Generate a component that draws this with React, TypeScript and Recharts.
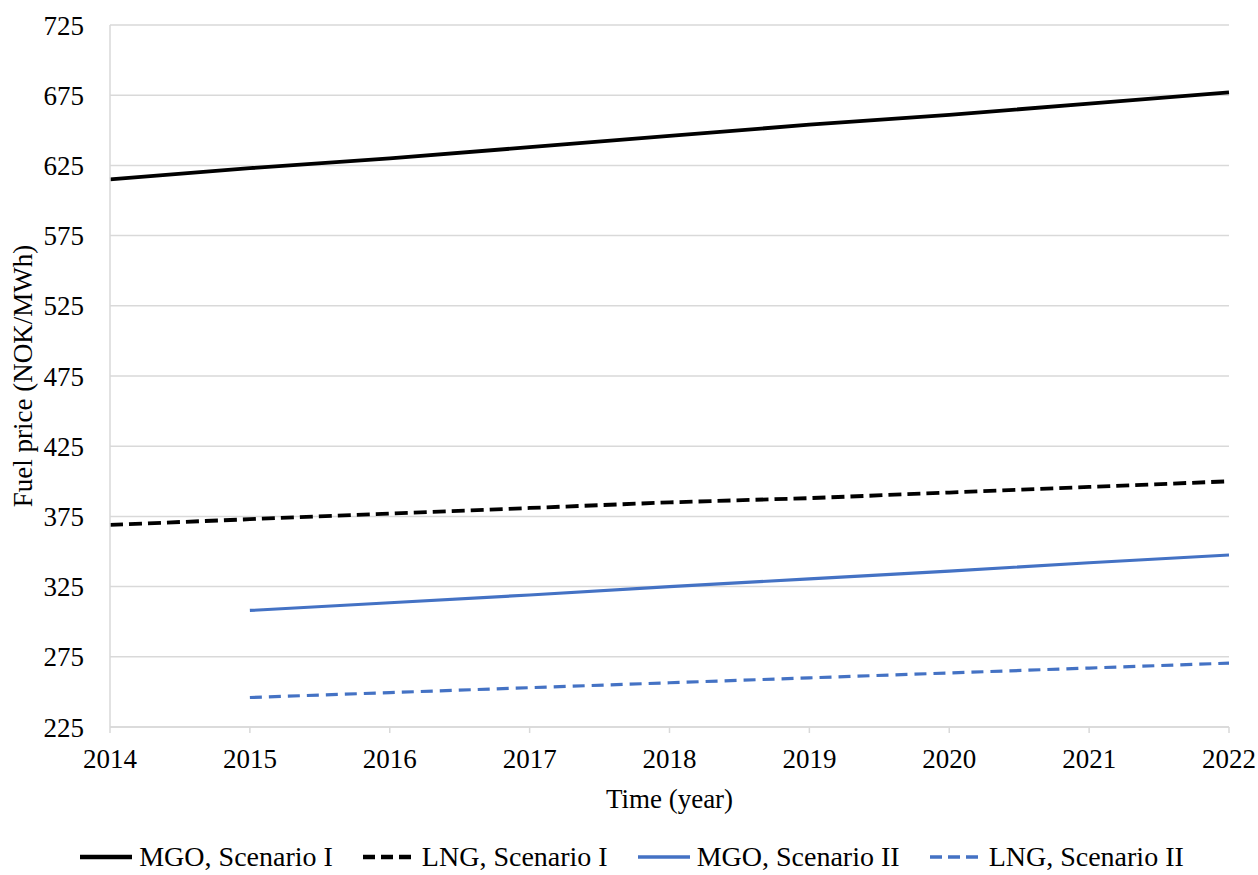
import { LineChart, Line, XAxis, YAxis, CartesianGrid, Legend } from 'recharts'

const years = [2014, 2015, 2016, 2017, 2018, 2019, 2020, 2021, 2022]
const mgoScenarioI = [615, 623, 630, 638, 646, 654, 661, 669, 677]
const lngScenarioI = [369, 373, 377, 381, 385, 388, 392, 396, 400]
const mgoScenarioII = [null, 308, 313.5, 319, 325, 330.5, 336, 342, 347.5]
const lngScenarioII = [null, 246, 249.5, 253, 256.5, 260, 263.5, 267, 270.5]
const yTicks = [225, 275, 325, 375, 425, 475, 525, 575, 625, 675, 725]

const data = years.map((year, i) => ({
  year,
  mgo1: mgoScenarioI[i],
  lng1: lngScenarioI[i],
  mgo2: mgoScenarioII[i],
  lng2: lngScenarioII[i],
}))

const FONT = 'Liberation Serif, DejaVu Serif, Times New Roman, serif'
const BLUE = '#4472C4'
const GRID = '#d9d9d9'

const series = [
  { key: 'mgo1', name: 'MGO, Scenario I', color: '#000000', dash: undefined, width: 3.8 },
  { key: 'lng1', name: 'LNG, Scenario I', color: '#000000', dash: '13 6', width: 3.8 },
  { key: 'mgo2', name: 'MGO, Scenario II', color: BLUE, dash: undefined, width: 3.2 },
  { key: 'lng2', name: 'LNG, Scenario II', color: BLUE, dash: '12 7', width: 3.2 },
]

function LegendRow() {
  return (
    <div
      style={{
        display: 'flex',
        justifyContent: 'center',
        alignItems: 'center',
        gap: 30,
        height: 36,
        fontFamily: FONT,
        fontSize: 28,
        color: '#000',
        marginLeft: 35,
      }}
    >
      {series.map((s) => (
        <div key={s.key} style={{ display: 'flex', alignItems: 'center' }}>
          <svg width={52} height={10} style={{ marginRight: 7 }}>
            <line
              x1={0}
              y1={5}
              x2={52}
              y2={5}
              stroke={s.color}
              strokeWidth={s.width + 0.5}
              strokeDasharray={s.dash ? '12 6' : undefined}
            />
          </svg>
          <span>{s.name}</span>
        </div>
      ))}
    </div>
  )
}

export default function App() {
  return (
    <div style={{ position: 'absolute', left: 0, top: 0, background: '#fff', fontFamily: FONT }}>
      <LineChart
        width={1258}
        height={875}
        data={data}
        margin={{ top: 25, right: 29, bottom: 0, left: 0 }}
        style={{ fontFamily: FONT }}
      >
        <CartesianGrid vertical={false} stroke={GRID} strokeWidth={1.5} />
        <XAxis
          dataKey="year"
          height={112}
          stroke={GRID}
          strokeWidth={1.5}
          tickSize={6}
          tickMargin={16}
          tick={{ fill: '#000', fontSize: 27, fontFamily: FONT }}
          label={{
            value: 'Time (year)',
            position: 'insideTop',
            offset: 62,
            fill: '#000',
            fontSize: 27,
            fontFamily: FONT,
          }}
        />
        <YAxis
          width={110}
          domain={[225, 725]}
          ticks={yTicks}
          interval={0}
          stroke={GRID}
          strokeWidth={1.5}
          tickLine={false}
          tickSize={0}
          tickMargin={26}
          tick={{ fill: '#000', fontSize: 27, fontFamily: FONT }}
          label={{
            value: 'Fuel price (NOK/MWh)',
            angle: -90,
            position: 'center',
            dx: -33,
            fill: '#000',
            fontSize: 27,
            fontFamily: FONT,
          }}
        />
        {series.map((s) => (
          <Line
            key={s.key}
            type="linear"
            dataKey={s.key}
            name={s.name}
            stroke={s.color}
            strokeWidth={s.width}
            strokeDasharray={s.dash}
            dot={false}
            activeDot={false}
            connectNulls={false}
            isAnimationActive={false}
          />
        ))}
        <Legend verticalAlign="bottom" height={36} content={() => <LegendRow />} />
      </LineChart>
    </div>
  )
}
